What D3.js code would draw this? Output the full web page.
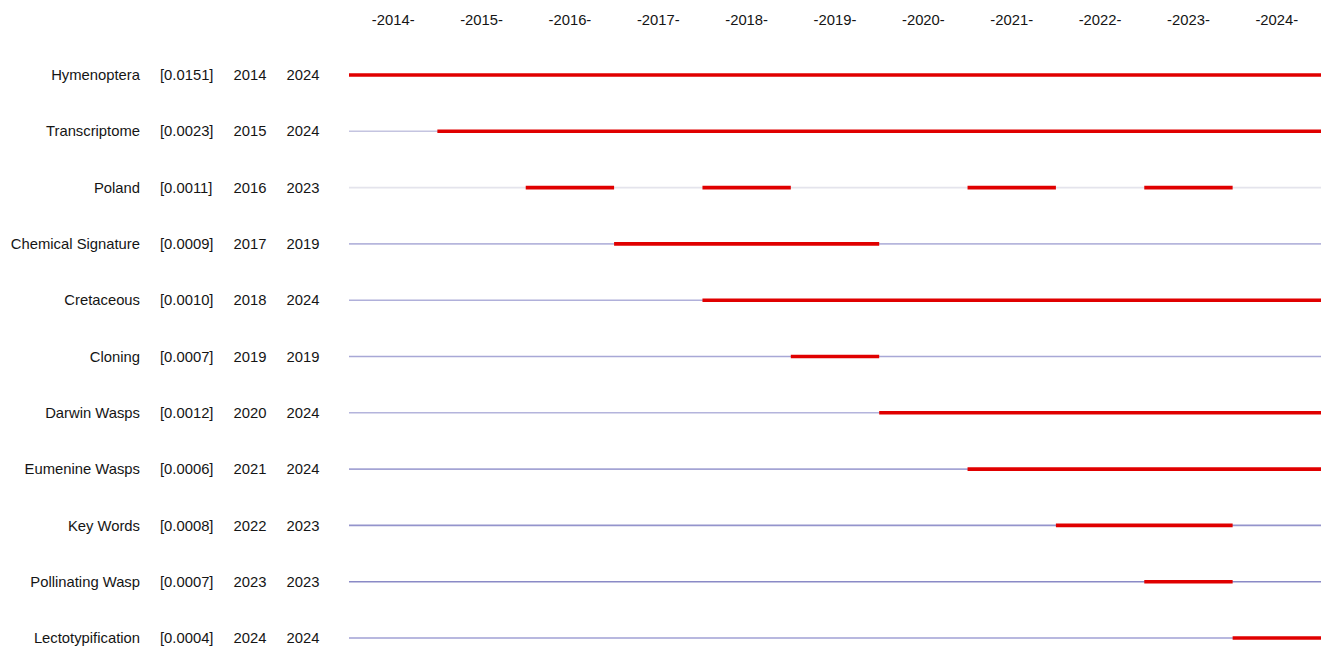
<!DOCTYPE html>
<html>
<head>
<meta charset="utf-8">
<script src="https://cdn.jsdelivr.net/npm/d3@7/dist/d3.min.js"></script>
<style>
  html, body { margin: 0; padding: 0; background: #ffffff; }
  svg { display: block; }
  text { font-family: "Liberation Sans", Arial, sans-serif; fill: #151515; }
</style>
</head>
<body>
<svg id="chart" width="1325" height="650"></svg>
<script>
// Keywords with the strongest citation bursts
const keywords = ["Hymenoptera", "Transcriptome", "Poland", "Chemical Signature", "Cretaceous",
  "Cloning", "Darwin Wasps", "Eumenine Wasps", "Key Words", "Pollinating Wasp", "Lectotypification"];
const strengths = ["0.0151", "0.0023", "0.0011", "0.0009", "0.0010",
  "0.0007", "0.0012", "0.0006", "0.0008", "0.0007", "0.0004"];
const beginYears = [2014, 2015, 2016, 2017, 2018, 2019, 2020, 2021, 2022, 2023, 2024];
const endYears = [2024, 2024, 2023, 2019, 2024, 2019, 2024, 2024, 2023, 2023, 2024];
// Burst periods per keyword as [first year, last year]
const bursts = [
  [[2014, 2024]],
  [[2015, 2024]],
  [[2016, 2016], [2018, 2018], [2021, 2021], [2023, 2023]],
  [[2017, 2019]],
  [[2018, 2024]],
  [[2019, 2019]],
  [[2020, 2024]],
  [[2021, 2024]],
  [[2022, 2023]],
  [[2023, 2023]],
  [[2024, 2024]]
];
const years = [2014, 2015, 2016, 2017, 2018, 2019, 2020, 2021, 2022, 2023, 2024];

// Baseline tint for each row's timeline
const baseColors = ["#c8c8e4", "#c4c4e0", "#e4e4ec", "#b6b6dc", "#b0b0da",
  "#a8a8d6", "#b4b4dc", "#a4a4d4", "#9494cc", "#8a8ac6", "#a0a0d4"];

const svg = d3.select("#chart");
const fontSize = 14.8;

const x = d3.scaleLinear().domain([2014, 2025]).range([349, 1321]);
const y = d3.scalePoint().domain(d3.range(keywords.length)).range([75, 638]);

// Year header
svg.append("g").selectAll("text").data(years).join("text")
  .attr("x", d => x(d + 0.5))
  .attr("y", 20)
  .attr("dy", "0.35em")
  .attr("text-anchor", "middle")
  .style("font-size", fontSize + "px")
  .text(d => `-${d}-`);

const rows = svg.append("g").selectAll("g").data(d3.range(keywords.length)).join("g")
  .attr("transform", i => `translate(0,${y(i)})`);

rows.append("text")
  .attr("x", 140).attr("dy", "0.35em").attr("text-anchor", "end")
  .style("font-size", fontSize + "px")
  .text(i => keywords[i]);

rows.append("text")
  .attr("x", 160).attr("dy", "0.35em").attr("text-anchor", "start")
  .style("font-size", fontSize + "px")
  .text(i => `[${strengths[i]}]`);

rows.append("text")
  .attr("x", 250).attr("dy", "0.35em").attr("text-anchor", "middle")
  .style("font-size", fontSize + "px")
  .text(i => beginYears[i]);

rows.append("text")
  .attr("x", 303).attr("dy", "0.35em").attr("text-anchor", "middle")
  .style("font-size", fontSize + "px")
  .text(i => endYears[i]);

// Full timeline
rows.append("line")
  .attr("x1", x(2014)).attr("x2", x(2025))
  .attr("y1", 0).attr("y2", 0)
  .attr("stroke", i => baseColors[i])
  .attr("stroke-width", 1.6);

// Burst segments
rows.selectAll("line.burst").data(i => bursts[i]).join("line")
  .attr("class", "burst")
  .attr("x1", d => x(d[0])).attr("x2", d => x(d[1] + 1))
  .attr("y1", 0).attr("y2", 0)
  .attr("stroke", "#e00000")
  .attr("stroke-width", 3.6);
</script>
</body>
</html>
